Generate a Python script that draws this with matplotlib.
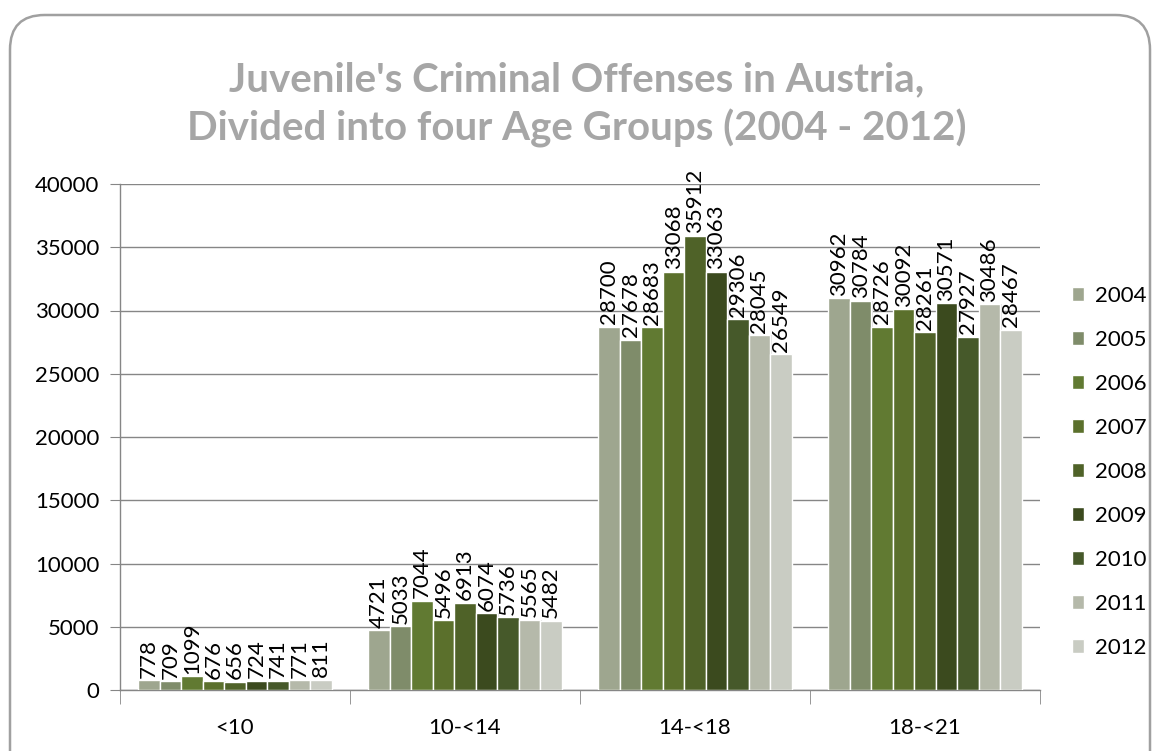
import matplotlib
matplotlib.use("Agg")
import matplotlib.pyplot as plt
import numpy as np
from matplotlib.patches import FancyBboxPatch

categories = ["<10", "10-<14", "14-<18", "18-<21"]
years = ["2004", "2005", "2006", "2007", "2008", "2009", "2010", "2011", "2012"]
values = {
    "2004": [778, 4721, 28700, 30962],
    "2005": [709, 5033, 27678, 30784],
    "2006": [1099, 7044, 28683, 28726],
    "2007": [676, 5496, 33068, 30092],
    "2008": [656, 6913, 35912, 28261],
    "2009": [724, 6074, 33063, 30571],
    "2010": [741, 5736, 29306, 27927],
    "2011": [771, 5565, 28045, 30486],
    "2012": [811, 5482, 26549, 28467],
}
colors = ["#9EA68F", "#7F8C6A", "#617A32", "#5B702C", "#4F6228",
          "#3B4A1E", "#46592A", "#B5B9AA", "#C9CCC3"]

plt.rcParams['font.family'] = ['Lato', 'DejaVu Sans']

fig = plt.figure(figsize=(11.54, 7.51), dpi=100)
border = FancyBboxPatch((10/1154, -0.05), (1140/1154), (736/751) + 0.05,
                        boxstyle="round,pad=0,rounding_size=0.03",
                        transform=fig.transFigure, fill=False,
                        edgecolor="#A0A0A0", linewidth=1.8, mutation_aspect=1154/751)
fig.patches.append(border)

ax = fig.add_axes([120/1154, 1 - 690/751, 920/1154, (690 - 184)/751])

n = len(years)
bw = 0.84 / n
x = np.arange(len(categories))
for i, yr in enumerate(years):
    pos = x - 0.42 + bw * (i + 0.5)
    ax.bar(pos + 0.007, values[yr], width=bw, color="#E3E3E3", zorder=2, linewidth=0)
    ax.bar(pos, values[yr], width=bw, color=colors[i], edgecolor="white",
           linewidth=1.0, label=yr, zorder=3)
    for p, v in zip(pos, values[yr]):
        ax.text(p, v + 200, str(v), rotation=90, ha="center", va="bottom",
                fontsize=16, color="black", zorder=4)

ax.set_ylim(0, 40000)
ax.set_xlim(-0.5, len(categories) - 0.5)
ax.set_yticks(range(0, 40001, 5000))
ax.tick_params(axis='y', labelsize=16, length=7, color="#868686", direction="out", pad=8)
ax.set_xticks(x)
ax.set_xticklabels(categories, fontsize=16)
ax.set_xticks(np.arange(-0.5, len(categories), 1), minor=True)
ax.tick_params(axis='x', which='major', length=0, pad=20)
ax.tick_params(axis='x', which='minor', length=10, color="#868686")
ax.grid(axis='y', color="#868686", linewidth=1.0, zorder=0)
ax.set_axisbelow(True)
for s in ["top", "right"]:
    ax.spines[s].set_visible(False)
for s in ["left", "bottom"]:
    ax.spines[s].set_color("#868686")
    ax.spines[s].set_linewidth(1.0)

handles, labels = ax.get_legend_handles_labels()
leg = fig.legend(handles, labels, loc="center left", bbox_to_anchor=(1052/1154, 1 - 472/751),
                 frameon=False, fontsize=16, handlelength=0.55, handleheight=0.55,
                 labelspacing=1.08, handletextpad=0.5)

fig.text(577/1154, 1 - 80/751, "Juvenile's Criminal Offenses in Austria,",
         ha="center", va="center", fontsize=29, fontweight="bold", color="#A6A6A6")
fig.text(577/1154, 1 - 128/751, "Divided into four Age Groups (2004 - 2012)",
         ha="center", va="center", fontsize=29, fontweight="bold", color="#A6A6A6")

fig.savefig("out.png", dpi=100)
